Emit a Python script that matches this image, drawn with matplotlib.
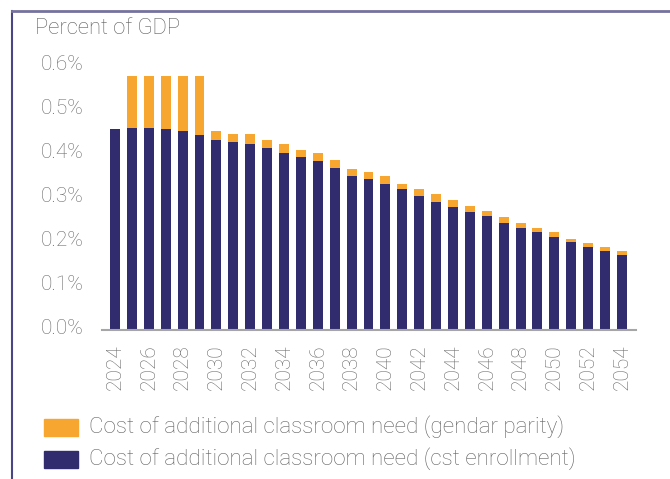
import matplotlib
matplotlib.use("Agg")
import matplotlib.pyplot as plt
from matplotlib.patches import Rectangle
from matplotlib.lines import Line2D
import matplotlib.transforms as mtransforms

plt.rcParams['font.family'] = ['Roboto', 'DejaVu Sans']

years = list(range(2024, 2055))
enrollment = [0.459, 0.461, 0.461, 0.459, 0.454, 0.445, 0.434, 0.429, 0.425, 0.416,
              0.404, 0.395, 0.386, 0.370, 0.352, 0.345, 0.333, 0.322, 0.306, 0.292,
              0.281, 0.269, 0.260, 0.244, 0.233, 0.224, 0.212, 0.201, 0.189, 0.180,
              0.171]
parity = [0.000, 0.119, 0.119, 0.121, 0.126, 0.135, 0.020, 0.018, 0.022, 0.018,
          0.021, 0.016, 0.018, 0.018, 0.016, 0.016, 0.019, 0.011, 0.016, 0.019,
          0.016, 0.014, 0.012, 0.014, 0.011, 0.009, 0.012, 0.007, 0.010, 0.009,
          0.009]
y_ticks = [0.0, 0.1, 0.2, 0.3, 0.4, 0.5, 0.6]
y_labels = ["0.0%", "0.1%", "0.2%", "0.3%", "0.4%", "0.5%", "0.6%"]
x_tick_years = years[::2]
series_labels = ["Cost of additional classroom need (gendar parity)",
                 "Cost of additional classroom need (cst enrollment)"]

NAVY = "#312c6e"
ORANGE = "#f7a730"
GRAY_TEXT = "#6a6a6a"
WEIGHT = "light"

W, H = 670, 479
fig = plt.figure(figsize=(W / 100, H / 100), dpi=100)

# Panel frame: left and top rules
fig.add_artist(Line2D([12 / W, 12 / W], [0, 1 - 11 / H], transform=fig.transFigure,
                      color="#4a4685", lw=1.5))
fig.add_artist(Line2D([12 / W, 1], [1 - 11 / H, 1 - 11 / H], transform=fig.transFigure,
                      color="#76729e", lw=2.0))

ax = fig.add_axes([102 / W, 1 - 330 / H, (636 - 102) / W, (330 - 67) / H])
ax.bar(years, enrollment, width=0.59, color=NAVY, zorder=2)
ax.bar(years, parity, width=0.59, bottom=enrollment, color=ORANGE, zorder=2)

ax.set_xlim(2024 - 0.77, 2054 + 0.83)
ax.set_ylim(0, 0.6)
for s in ["top", "right", "left"]:
    ax.spines[s].set_visible(False)
ax.spines["bottom"].set_color("#a6a6a6")
ax.spines["bottom"].set_linewidth(1.5)

ax.set_yticks(y_ticks)
ax.set_yticklabels(y_labels, fontsize=15, color=GRAY_TEXT, fontweight=WEIGHT)
ax.tick_params(axis="y", length=0, pad=13)
offset = mtransforms.ScaledTranslation(0, 4 / 100, fig.dpi_scale_trans)
for lbl in ax.get_yticklabels():
    lbl.set_transform(lbl.get_transform() + offset)

ax.set_xticks(x_tick_years)
ax.set_xticklabels([str(y) for y in x_tick_years], rotation=90, fontsize=15,
                   color=GRAY_TEXT, fontweight=WEIGHT)
ax.tick_params(axis="x", length=0, pad=10)

fig.text(35 / W, 1 - 29 / H, "Percent of GDP", fontsize=15.8, color="#5e5e5e",
         fontweight=WEIGHT, va="center", ha="left")

# Legend
leg_items = [(ORANGE, series_labels[0], 427), (NAVY, series_labels[1], 459)]
for color, text, yc in leg_items:
    fig.add_artist(Rectangle((44 / W, 1 - (yc + 8.5) / H), 34 / W, 17 / H,
                             transform=fig.transFigure, color=color))
    fig.text(89 / W, 1 - yc / H, text, fontsize=16.1, color="#626262",
             fontweight=WEIGHT, va="center", ha="left")

fig.savefig("out.png", dpi=100)
